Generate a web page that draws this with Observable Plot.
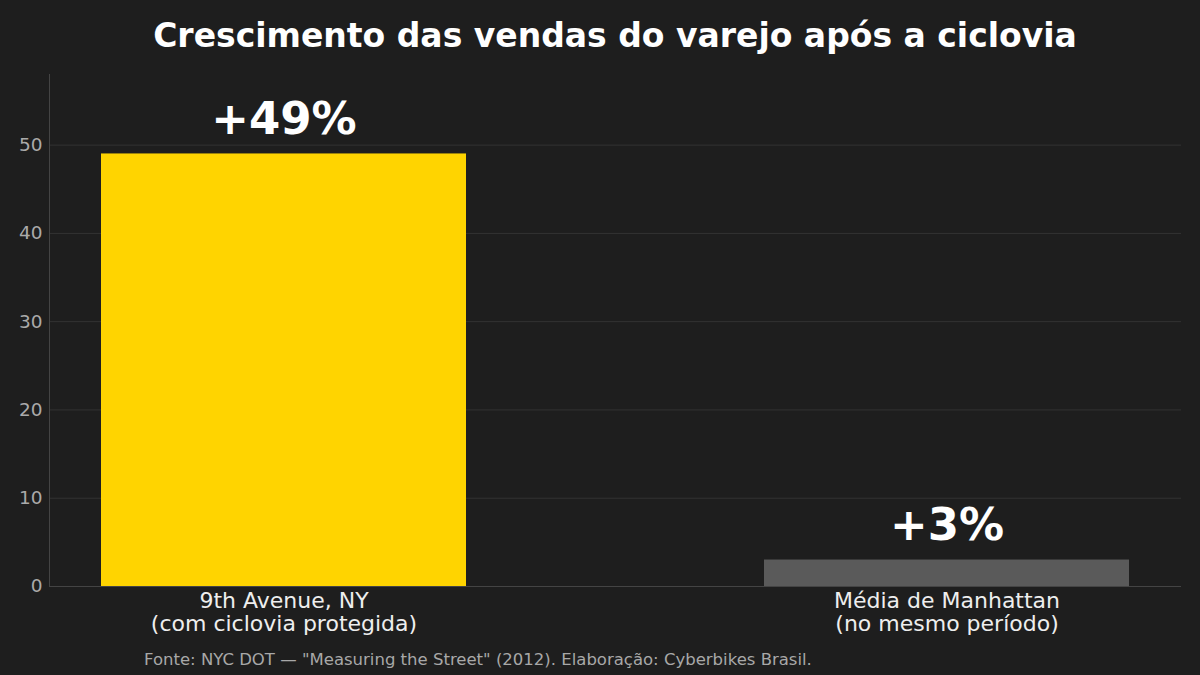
<!DOCTYPE html>
<html><head><meta charset="utf-8">
<script src="https://cdn.jsdelivr.net/npm/d3@7"></script>
<script src="https://cdn.jsdelivr.net/npm/@observablehq/plot@0.6"></script>
<style>
html,body{margin:0;padding:0;background:#1e1e1e;}
#wrap{width:1200px;height:675px;overflow:hidden;font-family:"DejaVu Sans",sans-serif;}
#title{height:64px;box-sizing:border-box;padding-left:49px;width:1181px;text-align:center;color:#ffffff;font-weight:bold;font-size:33px;line-height:71px;white-space:nowrap;}
#chart svg{display:block;}
#footer{height:35px;box-sizing:border-box;padding-left:144px;color:#a8a8a8;font-size:16.5px;line-height:40px;white-space:nowrap;}
</style>
</head><body>
<div id="wrap">
  <div id="title">Crescimento das vendas do varejo após a ciclovia</div>
  <div id="chart"></div>
  <div id="footer">Fonte: NYC DOT — "Measuring the Street" (2012). Elaboração: Cyberbikes Brasil.</div>
</div>
<script>
const categories = ["9th Avenue, NY\n(com ciclovia protegida)", "Média de Manhattan\n(no mesmo período)"];
const values = [49, 3];
const valueLabels = ["+49%", "+3%"];
const yTicks = [0, 10, 20, 30, 40, 50];
const barColors = ["#FFD400", "#5a5a5a"];

const rows = categories.map((c, i) => ({cat: c, value: values[i], label: valueLabels[i]}));

const chart = Plot.plot({
  width: 1200,
  height: 576,
  marginTop: 10,
  marginBottom: 54,
  marginLeft: 49,
  marginRight: 19,
  style: {background: "#1e1e1e", color: "#aaaaaa", fontFamily: "DejaVu Sans, sans-serif"},
  x: {domain: categories, paddingInner: 0.45, paddingOuter: 0.078, axis: null},
  y: {domain: [0, 58], axis: null},
  color: {domain: categories, range: barColors},
  marks: [
    Plot.gridY(yTicks, {stroke: "#333333", strokeOpacity: 1, strokeWidth: 1}),
    Plot.barY(rows, {x: "cat", y: "value", fill: "cat"}),
    Plot.ruleY([0], {stroke: "#444444", strokeWidth: 1}),
    Plot.frame({anchor: "left", stroke: "#444444"}),
    Plot.axisY(yTicks, {tickSize: 0, tickPadding: 7, fontSize: 18.5, fill: "#aaaaaa", label: null}),
    Plot.text(rows, {x: "cat", y: "value", text: "label", dy: -20, lineAnchor: "bottom", fontSize: 45, fontWeight: "bold", fill: "#ffffff"}),
    Plot.text(rows, {x: "cat", text: "cat", frameAnchor: "bottom", lineAnchor: "top", dy: 5, lineHeight: 1.05, fontSize: 22, fill: "#eeeeee"})
  ]
});
document.getElementById("chart").appendChild(chart);
</script>
</body></html>
